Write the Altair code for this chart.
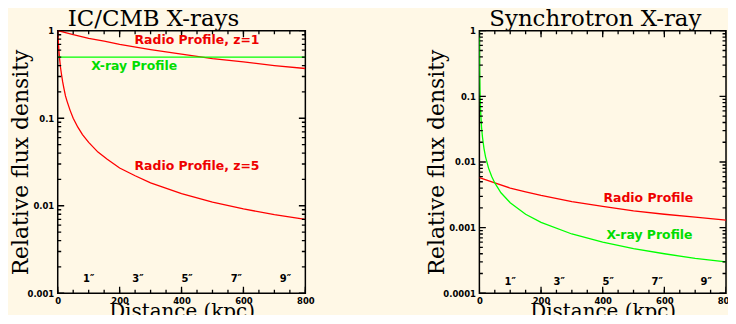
import altair as alt
import pandas as pd

# ---------------- data ----------------
# Left panel: IC/CMB X-rays
left_d_z1 = [0, 50, 100, 150, 200, 300, 400, 500, 600, 700, 800]
left_v_z1 = [1.0, 0.90, 0.82, 0.76, 0.70, 0.61, 0.54, 0.48, 0.44, 0.40, 0.37]
left_d_z5 = [0, 1, 2, 4, 6, 9, 12, 16, 20, 25, 30, 40, 50, 65, 80, 100,
             130, 160, 200, 250, 300, 400, 500, 600, 700, 800]
left_v_z5 = [1.0, 0.85, 0.74, 0.58, 0.48, 0.38, 0.32, 0.26, 0.22, 0.18, 0.157,
             0.123, 0.10, 0.079, 0.065, 0.053, 0.041, 0.034, 0.027, 0.022,
             0.0183, 0.0138, 0.011, 0.0092, 0.0079, 0.0070]
left_d_xray = [0, 800]
left_v_xray = [0.5, 0.5]

# Right panel: Synchrotron X-ray
right_d_radio = [0, 50, 100, 150, 200, 300, 400, 500, 600, 700, 800]
right_v_radio = [0.0058, 0.0048, 0.0040, 0.0035, 0.0031, 0.0025, 0.0021,
                 0.0018, 0.0016, 0.00145, 0.0013]
right_d_xray = [0.25, 0.5, 1, 2, 4, 7, 10, 15, 20, 30, 40, 50, 70, 100, 150,
                200, 300, 400, 500, 600, 700, 800]
right_v_xray = [1.0, 0.5, 0.24, 0.12, 0.06, 0.034, 0.024, 0.016, 0.012, 0.008,
                0.006, 0.0048, 0.0034, 0.0024, 0.0016, 0.0012, 0.0008, 0.0006,
                0.00048, 0.0004, 0.00034, 0.0003]

# Annotations
left_note_text = ["Radio Profile, z=1", "X-ray Profile", "Radio Profile, z=5"]
left_note_d = [450, 247, 450]
left_note_v = [0.79, 0.40, 0.0285]
left_note_c = ["#ee0000", "#00dd00", "#ee0000"]

right_note_text = ["Radio Profile", "X-ray Profile"]
right_note_d = [548, 552]
right_note_v = [0.00285, 0.00078]
right_note_c = ["#ee0000", "#00dd00"]

arc_text = ["1\u2033", "3\u2033", "5\u2033", "7\u2033", "9\u2033"]
arc_d = [100, 259, 418, 577, 736]
left_arc_v = 0.00144
right_arc_v = 0.000147

x_major = [0, 200, 400, 600, 800]
x_minor = list(range(0, 801, 50))
x_lo, x_hi = 0, 800

BG = "#fff8e6"
SERIF = "DejaVu Serif"
SANS = "DejaVu Sans"
MAJOR_LEN, MINOR_LEN = 6.5, 3.5   # tick lengths in pixels


def frame(series):
    rows = []
    for name, ds, vs in series:
        for d, v in zip(ds, vs):
            rows.append({"d": d, "v": v, "s": name, "g": name})
    return rows


def tick_segments(decades, minor, y_lo, W, H):
    """Two-point segments for the inward ticks on the four frame sides."""
    n_dec = len(decades) - 1
    px_dec = H / n_dec                      # pixels per decade
    rows, g = [], 0
    for vals, ln in ((decades, MAJOR_LEN), (minor, MINOR_LEN)):
        dx = ln * (x_hi - x_lo) / W
        for v in vals:
            for x0, x1 in ((x_lo, x_lo + dx), (x_hi, x_hi - dx)):
                rows += [{"d": x0, "v": v, "s": "tick", "g": f"t{g}"},
                         {"d": x1, "v": v, "s": "tick", "g": f"t{g}"}]
                g += 1
    for vals, ln in ((x_major, MAJOR_LEN), (x_minor, MINOR_LEN)):
        f = 10 ** (ln / px_dec)
        for d in vals:
            for y0, y1 in ((1.0, 1.0 / f), (y_lo, y_lo * f)):
                rows += [{"d": d, "v": y0, "s": "tick", "g": f"t{g}"},
                         {"d": d, "v": y1, "s": "tick", "g": f"t{g}"}]
                g += 1
    return rows


def panel(series, colors, notes, arc_v, ymin_exp, title, W, H, ytitle_pad):
    y_lo = 10.0 ** ymin_exp
    decades = [10.0 ** k for k in range(ymin_exp, 1)]
    minor = [m * 10.0 ** k for k in range(ymin_exp, 0) for m in range(2, 10)]
    lines = pd.DataFrame(frame(series) +
                         tick_segments(decades, minor, y_lo, W, H))
    xs = alt.Scale(domain=[x_lo, x_hi], nice=False, zero=False)
    ys = alt.Scale(type="log", domain=[y_lo, 1], nice=False)

    common = dict(labelFont=SANS, labelFontWeight="bold", labelFontSize=8.5,
                  labelColor="black", titleFont=SERIF,
                  titleFontWeight="normal", titleColor="black", grid=False,
                  labelFlush=False, labelOverlap=False, ticks=False,
                  tickSize=0, domain=False)
    xaxis = alt.Axis(orient="bottom", values=x_major, format="d",
                     labelPadding=3, title="Distance (kpc)", titlePadding=-3,
                     titleFontSize=20, **common)
    yaxis = alt.Axis(orient="left", values=decades, format="~g",
                     labelPadding=4, title="Relative flux density",
                     titlePadding=ytitle_pad, titleFontSize=22, **common)

    def X():
        return alt.X("d:Q", scale=xs, axis=xaxis)

    def Y():
        return alt.Y("v:Q", scale=ys, axis=yaxis)

    main = alt.Chart(lines).mark_line(strokeWidth=1.3, clip=True).encode(
        x=X(), y=Y(), detail="g:N",
        color=alt.Color("s:N", scale=alt.Scale(
            domain=[c[0] for c in series] + ["tick"],
            range=colors + ["#000000"]), legend=None),
    )

    nt, nd, nv, nc = notes
    notes_df = pd.DataFrame({"t": nt, "d": nd, "v": nv, "c": nc})
    txt = alt.Chart(notes_df).mark_text(font=SANS, fontWeight="bold",
                                        fontSize=12.5, baseline="middle").encode(
        x=X(), y=Y(), text="t:N",
        color=alt.Color("c:N", scale=None),
    )
    arc_df = pd.DataFrame({"t": arc_text, "d": arc_d, "v": [arc_v] * len(arc_d)})
    arcs = alt.Chart(arc_df).mark_text(font=SANS, fontWeight="bold",
                                       fontSize=10, baseline="middle",
                                       color="black").encode(
        x=X(), y=Y(), text="t:N",
    )

    return alt.layer(main, txt, arcs).resolve_scale(
        color="independent"
    ).properties(
        width=W, height=H,
        title=alt.TitleParams(title, font=SERIF, fontSize=23,
                              fontWeight="normal", anchor="start", dx=10,
                              frame="group", offset=-4, color="black"),
    )


left = panel(
    [("Radio z=1", left_d_z1, left_v_z1),
     ("Radio z=5", left_d_z5, left_v_z5),
     ("X-ray", left_d_xray, left_v_xray)],
    ["#ff0000", "#ff0000", "#00ff00"],
    (left_note_text, left_note_d, left_note_v, left_note_c),
    left_arc_v, -3, "IC/CMB X-rays", 249, 264, -5,
)
right = panel(
    [("Radio", right_d_radio, right_v_radio),
     ("X-ray", right_d_xray, right_v_xray)],
    ["#ff0000", "#00ff00"],
    (right_note_text, right_note_d, right_note_v, right_note_c),
    right_arc_v, -4, "Synchrotron X-ray", 248, 264, -6,
)

chart = alt.hconcat(left, right, spacing=110).properties(
    padding={"left": 0, "top": -2, "right": -8, "bottom": -9},
).configure(background=BG).configure_view(stroke="black", strokeWidth=1.5)

chart.save("out.html", embed_options={"renderer": "svg", "actions": False})
